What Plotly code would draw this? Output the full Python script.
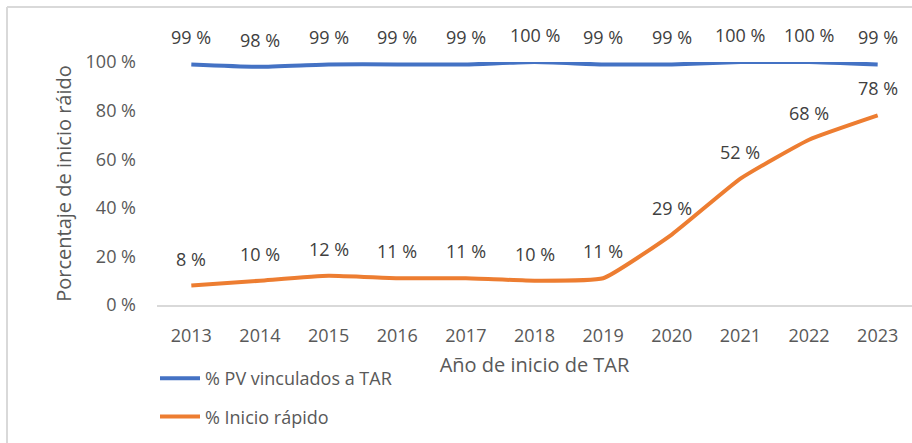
import plotly.graph_objects as go

years = [2013, 2014, 2015, 2016, 2017, 2018, 2019, 2020, 2021, 2022, 2023]
pv_vinculados = [99, 98, 99, 99, 99, 100, 99, 99, 100, 100, 99]
inicio_rapido = [8, 10, 12, 11, 11, 10, 11, 29, 52, 68, 78]
y_ticks = [0, 20, 40, 60, 80, 100]
series_names = ["% PV vinculados a TAR", "% Inicio rápido"]
colors = ["#4472C4", "#ED7D31"]

FONT = "Open Sans"
W, H = 912, 443
L, R, T, B = 157, 0, 62, 138
pw, ph = W - L - R, H - T - B

fig = go.Figure()
for name, vals, col in zip(series_names, [pv_vinculados, inicio_rapido], colors):
    fig.add_trace(go.Scatter(
        x=years, y=vals, name=name, mode="lines",
        line=dict(color=col, width=4, shape="spline", smoothing=0.4),
        cliponaxis=False, legendgroup=name,
    ))
    for xv, yv in zip(years, vals):
        fig.add_annotation(x=xv, y=yv, text=f"{yv} %", showarrow=False,
                           yshift=27, font=dict(family=FONT, size=18, color="#404040"))

def px_x(p):
    return (p - L) / pw

def px_y(p):
    return (H - B - p) / ph

border = "#D9D9D9"
fig.add_shape(type="line", xref="paper", yref="paper", x0=px_x(7), x1=px_x(914), y0=px_y(7), y1=px_y(7),
              line=dict(color=border, width=2))
fig.add_shape(type="line", xref="paper", yref="paper", x0=px_x(7), x1=px_x(7), y0=px_y(7), y1=px_y(445),
              line=dict(color=border, width=2))

fig.update_layout(
    width=W, height=H,
    margin=dict(l=L, r=R, t=T, b=B),
    paper_bgcolor="white", plot_bgcolor="white",
    font=dict(family=FONT, color="#595959"),
    showlegend=True,
    legend=dict(x=px_x(155), xanchor="left", y=px_y(360), yanchor="top",
                orientation="v", tracegroupgap=12,
                font=dict(family=FONT, size=18, color="#595959"),
                bgcolor="rgba(0,0,0,0)", itemwidth=40),
    xaxis=dict(
        range=[2012.5, 2023.5], tickmode="array", tickvals=years,
        ticktext=[str(y) for y in years], showgrid=False,
        showline=True, linecolor="#D9D9D9", linewidth=2,
        ticks="", ticklabelstandoff=13, zeroline=False,
        tickfont=dict(family=FONT, size=18, color="#595959"),
        title=dict(text="Año de inicio de TAR", standoff=12,
                   font=dict(family=FONT, size=20, color="#595959")),
    ),
    yaxis=dict(
        range=[0, 100], tickmode="array", tickvals=y_ticks,
        ticktext=[f"{v} %" for v in y_ticks], showgrid=False,
        showline=False, zeroline=False, ticks="", ticklabelstandoff=20,
        tickfont=dict(family=FONT, size=18, color="#595959"),
        title=dict(text="Porcentaje de inicio ráido", standoff=8,
                   font=dict(family=FONT, size=20, color="#595959")),
    ),
)

fig.write_html("out.html", config={"displayModeBar": False},
               post_script="document.body.style.margin='0';")
